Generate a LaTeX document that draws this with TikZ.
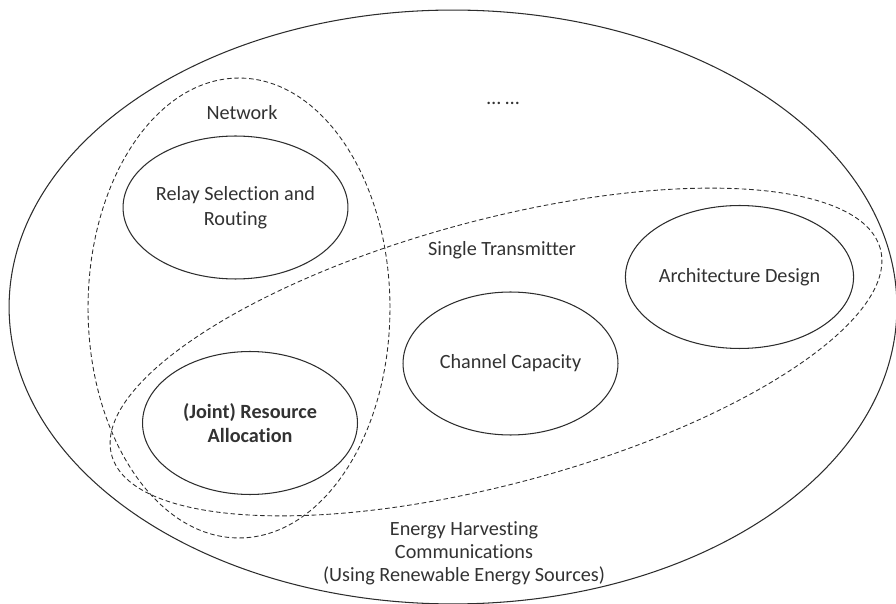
\documentclass[tikz,border=0pt]{standalone}
\usepackage{fontspec}
\setmainfont{Carlito}[Ligatures={NoCommon}]
\usetikzlibrary{shapes.geometric}
\definecolor{linegray}{RGB}{45,45,45}
\definecolor{textgray}{RGB}{50,50,50}
\tikzset{
outer/.style={draw=linegray,ellipse,line width=0.6pt,inner sep=0pt},
group/.style={outer,line width=0.5pt,dash pattern=on 2.6pt off 1.6pt},
topic/.style={outer,minimum width=4.3cm,minimum height=2.86cm,align=center,font=\fontsize{11.5}{14}\selectfont,text=textgray},
tag/.style={align=center,inner sep=0pt,font=\fontsize{11.5}{14}\selectfont,text=textgray}
}

\begin{document}
\begin{tikzpicture}[x=0.02cm,y=-0.02cm]
\useasboundingbox (0,0) rectangle (896,604);
% research areas
\node[outer,minimum width=17.76cm,minimum height=11.88cm] (ehc) at (453,307) {};
\node[group,minimum width=6.04cm,minimum height=9.2cm] (net) at (239,308) {};
\node[group,rotate=15,minimum width=15.92cm,minimum height=5.28cm] (single) at (496,352) {};
% topics
\node[topic] (relay) at (235.5,207.5) {Relay Selection and\\Routing};
\node[topic,font=\fontsize{11.5}{14}\selectfont\bfseries] (joint) at (250,423) {(Joint) Resource\\Allocation};
\node[topic] (capacity) at (510.5,363.5) {Channel Capacity};
\node[topic] (arch) at (739.5,277) {Architecture Design};
% labels
\node[tag] (netlbl) at (242,113) {Network};
\node[tag] (dots) at (503,103) {… …};
\node[tag] (singlelbl) at (502,250) {Single Transmitter};
\node[tag,font=\fontsize{11.5}{13}\selectfont] (ehclbl) at (464,553) {Energy Harvesting\\Communications\\(Using Renewable Energy Sources)};
\end{tikzpicture}
\end{document}
